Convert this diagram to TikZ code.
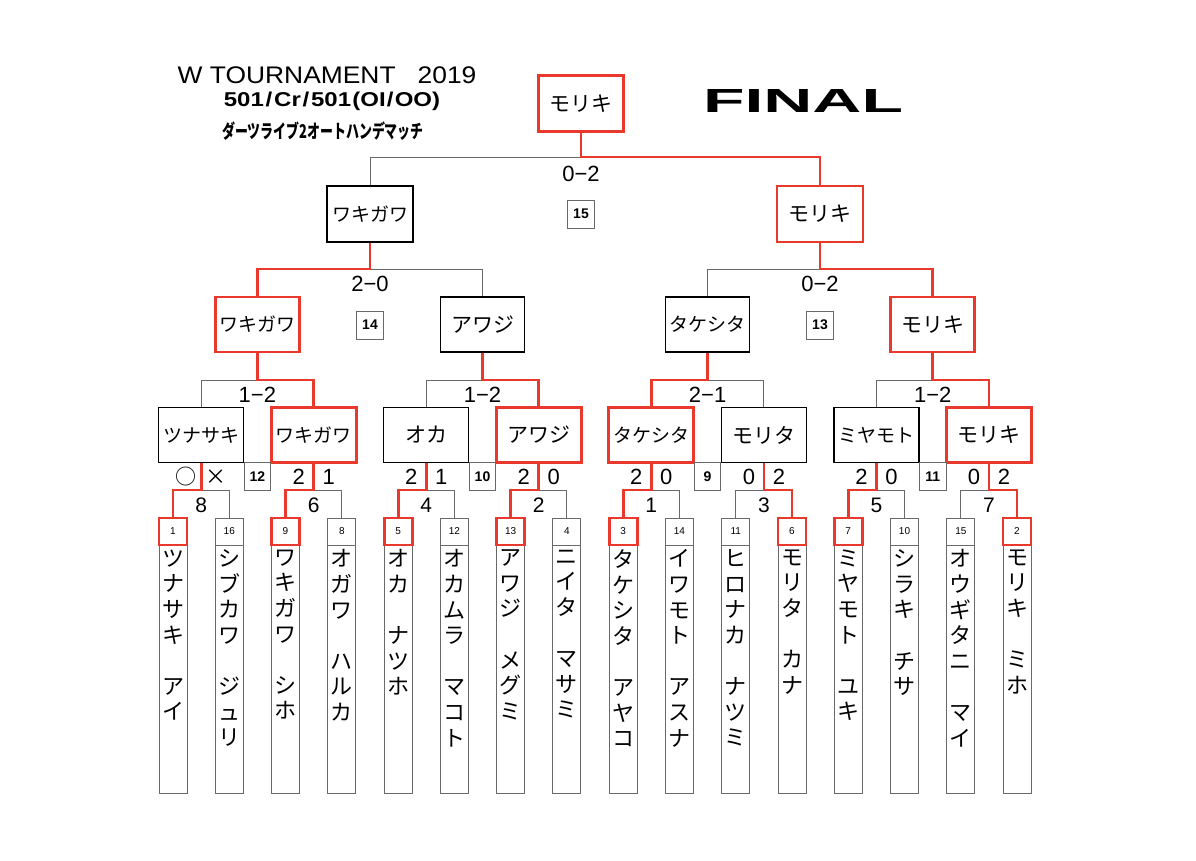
\documentclass[tikz,border=0pt]{standalone}
\usepackage{fontspec}
\usepackage{graphicx}
\setmainfont{Liberation Sans}
\newfontfamily\jp{Noto Sans CJK JP}
\definecolor{wred}{RGB}{233,57,44}
\definecolor{lgray}{RGB}{105,105,105}
\newcommand\player[6]{%
  \node[pname] (b#1) at (#2,545) {};
  \node[#5] (p#1) at (#2,531.5) {#3};
  \node[ntext] (nm#1) at (#2,549.5) {#4};
}
\begin{document}
\begin{tikzpicture}[x=1pt,y=-1pt,
  team/.style={draw=black, line width=1.5pt, fill=white, minimum width=85pt, minimum height=55pt, inner sep=0pt, font=\jp\fontsize{21}{24}\selectfont},
  teamw/.style={team, draw=wred, line width=2.8pt},
  f4/.style={font=\jp\fontsize{19}{22}\selectfont},
  conn/.style={draw=lgray, line width=0.9pt},
  win/.style={draw=wred, line width=2.8pt},
  pnum/.style={draw=lgray, line width=0.9pt, fill=white, minimum width=28pt, minimum height=27pt, inner sep=0pt, font=\fontsize{10}{12}\selectfont},
  pnumw/.style={pnum, draw=wred, line width=2.8pt},
  pname/.style={draw=lgray, line width=0.9pt, minimum width=28pt, minimum height=248pt, inner sep=0pt, anchor=north},
  ntext/.style={anchor=north, inner sep=0pt, align=center, font=\jp\fontsize{22}{25.6}\selectfont},
  mno/.style={draw=lgray, line width=0.9pt, fill=white, minimum width=27pt, minimum height=28pt, inner sep=0pt, font=\bfseries\fontsize{14}{14}\selectfont},
  score/.style={inner sep=0pt, font=\fontsize{22}{22}\selectfont},
  rno/.style={inner sep=0pt, font=\fontsize{21}{21}\selectfont},
  mk/.style={inner sep=0pt, font=\jp\fontsize{21}{21}\selectfont}
]
\useasboundingbox (0,0) rectangle (1196,861);

% title
\node[inner sep=0pt] (title1) at (327,75) {\scalebox{1.1}[1]{\fontsize{24}{24}\selectfont W TOURNAMENT\hspace{20pt}2019}};
\node[inner sep=0pt] (title2) at (332,101) {\scalebox{1.2}[1]{\fontsize{20}{20}\selectfont\bfseries 501\kern1.5pt/\kern1.5pt Cr\kern1.5pt/\kern1.5pt 501\kern1pt(OI\kern1pt/\kern1pt OO)}};
\node[inner sep=0pt] (title3) at (323,131) {\scalebox{0.68}[1]{\jp\bfseries\fontsize{19}{19}\selectfont ダーツライブ2オートハンデマッチ}};
\node[inner sep=0pt] (finaltitle) at (803,100.5) {\resizebox{200pt}{23pt}{\bfseries FINAL}};

% players
\player{1}{173}{1}{ツ\\ナ\\サ\\キ\\[25.6pt]ア\\イ}{pnumw}{}
\player{2}{229.3}{16}{シ\\ブ\\カ\\ワ\\[25.6pt]ジ\\ュ\\リ}{pnum}{}
\player{3}{285.5}{9}{ワ\\キ\\ガ\\ワ\\[25.6pt]シ\\ホ}{pnumw}{}
\player{4}{341.8}{8}{オ\\ガ\\ワ\\[25.6pt]ハ\\ル\\カ}{pnum}{}
\player{5}{398.1}{5}{オ\\カ\\[25.6pt]ナ\\ツ\\ホ}{pnumw}{}
\player{6}{454.4}{12}{オ\\カ\\ム\\ラ\\[25.6pt]マ\\コ\\ト}{pnum}{}
\player{7}{510.6}{13}{ア\\ワ\\ジ\\[25.6pt]メ\\グ\\ミ}{pnumw}{}
\player{8}{566.9}{4}{ニ\\イ\\タ\\[25.6pt]マ\\サ\\ミ}{pnum}{}
\player{9}{623.2}{3}{タ\\ケ\\シ\\タ\\[25.6pt]ア\\ヤ\\コ}{pnumw}{}
\player{10}{679.4}{14}{イ\\ワ\\モ\\ト\\[25.6pt]ア\\ス\\ナ}{pnum}{}
\player{11}{735.7}{11}{ヒ\\ロ\\ナ\\カ\\[25.6pt]ナ\\ツ\\ミ}{pnum}{}
\player{12}{792}{6}{モ\\リ\\タ\\[25.6pt]カ\\ナ}{pnumw}{}
\player{13}{848.2}{7}{ミ\\ヤ\\モ\\ト\\[25.6pt]ユ\\キ}{pnumw}{}
\player{14}{904.5}{10}{シ\\ラ\\キ\\[25.6pt]チ\\サ}{pnum}{}
\player{15}{960.8}{15}{オ\\ウ\\ギ\\タ\\ニ\\[25.6pt]マ\\イ}{pnum}{}
\player{16}{1017}{2}{モ\\リ\\キ\\[25.6pt]ミ\\ホ}{pnumw}{}

% round of 8 boxes
\node[team, f4] (r1) at (201.1,435) {ツナサキ};
\node[teamw, f4] (r2) at (313.7,435) {ワキガワ};
\node[team] (r3) at (426.2,435) {オカ};
\node[teamw] (r4) at (538.8,435) {アワジ};
\node[teamw, f4] (r5) at (651.3,435) {タケシタ};
\node[team] (r6) at (763.9,435) {モリタ};
\node[team, f4] (r7) at (876.4,435) {ミヤモト};
\node[teamw] (r8) at (988.9,435) {モリキ};

% quarter boxes
\node[teamw, f4, minimum width=84pt] (q1) at (257.4,324.5) {ワキガワ};
\node[team, minimum width=84pt] (q2) at (482.5,324.5) {アワジ};
\node[team, f4, minimum width=84pt] (q3) at (707.6,324.5) {タケシタ};
\node[teamw, minimum width=84pt] (q4) at (932.7,324.5) {モリキ};

% semis and final
\node[team, f4, minimum width=86pt, minimum height=56pt] (s1) at (370,214) {ワキガワ};
\node[teamw, minimum width=86pt, minimum height=56pt] (s2) at (820,214) {モリキ};
\node[teamw, minimum width=85pt, minimum height=56pt] (f) at (581,103.5) {モリキ};

% junctions
\foreach \i/\x in {1/201.1,2/313.7,3/426.2,4/538.8,5/651.3,6/763.9,7/876.4,8/988.9}
  \coordinate (j\i) at (\x,490);
\foreach \i/\x in {1/257.4,2/482.5,3/707.6,4/932.7}
  \coordinate (k\i) at (\x,380);
\coordinate (l1) at (370,269);
\coordinate (l2) at (820,269);
\coordinate (m1) at (581,157);

% losing branches
\draw[conn] (j1) -| (p2.north);
\draw[conn] (j2) -| (p4.north);
\draw[conn] (j3) -| (p6.north);
\draw[conn] (j4) -| (p8.north);
\draw[conn] (j5) -| (p10.north);
\draw[conn] (j6) -| (p11.north);
\draw[conn] (j7) -| (p14.north);
\draw[conn] (j8) -| (p15.north);
\draw[conn] (k1) -| (r1.north);
\draw[conn] (k2) -| (r3.north);
\draw[conn] (k3) -| (r6.north);
\draw[conn] (k4) -| (r7.north);
\draw[conn] (l1) -| (q2.north);
\draw[conn] (l2) -| (q3.north);
\draw[conn] (m1) -| (s1.north);

% winning branches
\draw[win] (r1.south) -- (j1) -| (p1.north);
\draw[win] (r2.south) -- (j2) -| (p3.north);
\draw[win] (r3.south) -- (j3) -| (p5.north);
\draw[win] (r4.south) -- (j4) -| (p7.north);
\draw[win] (r5.south) -- (j5) -| (p9.north);
\draw[win] (r6.south) -- (j6) -| (p12.north);
\draw[win] (r7.south) -- (j7) -| (p13.north);
\draw[win] (r8.south) -- (j8) -| (p16.north);
\draw[win] (q1.south) -- (k1) -| (r2.north);
\draw[win] (q2.south) -- (k2) -| (r4.north);
\draw[win] (q3.south) -- (k3) -| (r5.north);
\draw[win] (q4.south) -- (k4) -| (r8.north);
\draw[win] (s1.south) -- (l1) -| (q1.north);
\draw[win] (s2.south) -- (l2) -| (q4.north);
\draw[win] (f.south) -- (m1) -| (s2.north);

% match number boxes
\node[mno, minimum width=26.6pt, anchor=north] (n12) at (257.4,462) {12};
\node[mno, minimum width=26.6pt, anchor=north] (n10) at (482.5,462) {10};
\node[mno, minimum width=26.6pt, anchor=north] (n9) at (707.6,462) {9};
\node[mno, minimum width=26.6pt, anchor=north] (n11) at (932.7,462) {11};
\node[mno] (n14) at (370,325) {14};
\node[mno] (n13) at (820,325) {13};
\node[mno] (n15) at (581,214) {15};

% scores
\node[score] (sc15) at (581,174) {0−2};
\node[score] (sc14) at (370,284) {2−0};
\node[score] (sc13) at (820,284) {0−2};
\node[score] (sc12) at (257.4,395) {1−2};
\node[score] (sc10) at (482.5,395) {1−2};
\node[score] (sc9) at (707.6,395) {2−1};
\node[score] (sc11) at (932.7,395) {1−2};

% per-team scores in round of 16
\node[mk] (a1) at (186.1,477) {○};
\node[mk] (a2) at (216.1,477) {×};
\foreach \i/\x/\a/\b in {2/313.7/2/1,3/426.2/2/1,4/538.8/2/0,5/651.3/2/0,6/763.9/0/2,7/876.4/2/0,8/988.9/0/2}{
  \node[score] (sl\i) at (\x-15,477) {\a};
  \node[score] (sr\i) at (\x+15,477) {\b};
}

% round of 16 match numbers
\foreach \i/\x/\n in {1/201.1/8,2/313.7/6,3/426.2/4,4/538.8/2,5/651.3/1,6/763.9/3,7/876.4/5,8/988.9/7}
  \node[rno] (rn\i) at (\x,505) {\n};

\end{tikzpicture}
\end{document}
